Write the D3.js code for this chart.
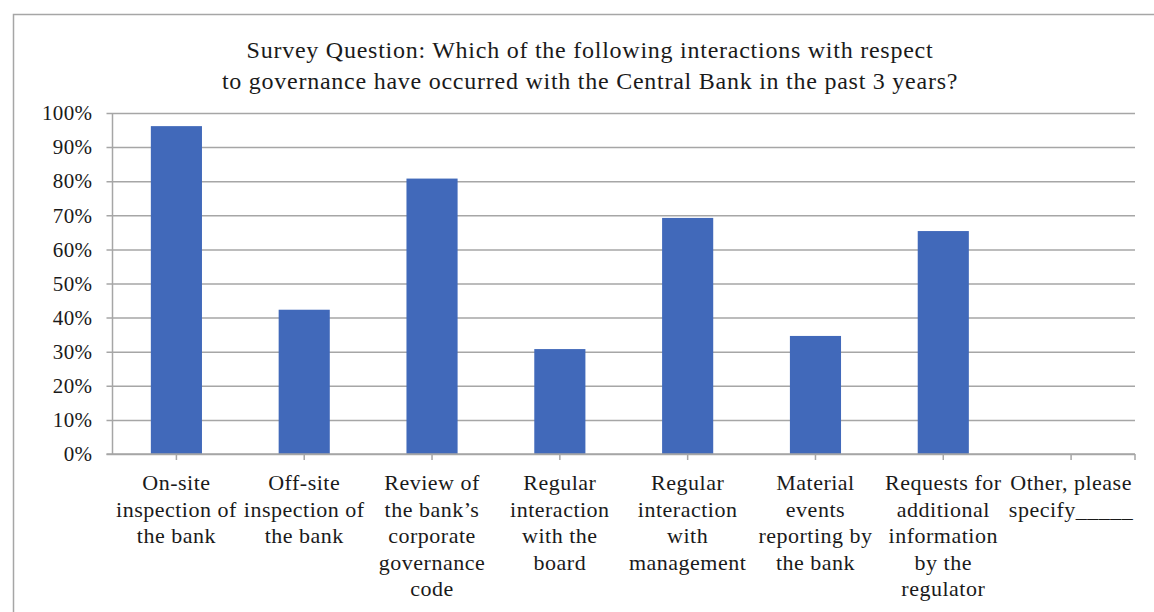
<!DOCTYPE html>
<html>
<head>
<meta charset="utf-8">
<script src="https://cdn.jsdelivr.net/npm/d3@7"></script>
<style>
  html, body { margin: 0; padding: 0; background: #fff; }
  svg text { font-family: "Liberation Serif", "DejaVu Serif", serif; fill: #1a1a1a; }
</style>
</head>
<body>
<svg id="chart" width="1154" height="612"></svg>
<script>
// Survey responses: share of banks reporting each interaction
const categories = [
  ["On-site", "inspection of", "the bank"],
  ["Off-site", "inspection of", "the bank"],
  ["Review of", "the bank\u2019s", "corporate", "governance", "code"],
  ["Regular", "interaction", "with the", "board"],
  ["Regular", "interaction", "with", "management"],
  ["Material", "events", "reporting by", "the bank"],
  ["Requests for", "additional", "information", "by the", "regulator"],
  ["Other, please", "specify_____"]
];
const values = [0.9615, 0.4231, 0.8077, 0.3077, 0.6923, 0.3462, 0.6538, 0];
const yTicks = [0, 0.1, 0.2, 0.3, 0.4, 0.5, 0.6, 0.7, 0.8, 0.9, 1.0];
const titleLines = [
  "Survey Question: Which of the following interactions with respect",
  "to governance have occurred with the Central Bank in the past 3 years?"
];

const svg = d3.select("#chart");
const W = 1154, H = 612;
const m = { left: 112.5, right: 1135, top: 113, bottom: 454 };

// Outer chart frame
svg.append("rect")
  .attr("x", 13.5).attr("y", 14.5)
  .attr("width", W + 10).attr("height", H + 10)
  .attr("fill", "none").attr("stroke", "#a6a6a6").attr("stroke-width", 1.5);

// Title
svg.append("g").selectAll("text").data(titleLines).join("text")
  .attr("x", 590).attr("y", (d, i) => 58 + i * 31)
  .attr("text-anchor", "middle")
  .style("font-size", "24px")
  .style("letter-spacing", "0.75px")
  .text(d => d);

const x = d3.scaleBand().domain(d3.range(categories.length))
  .range([m.left, m.right]).paddingInner(0.6).paddingOuter(0.3);
const xOuter = d3.scaleBand().domain(d3.range(categories.length))
  .range([m.left, m.right]);
const y = d3.scaleLinear().domain([0, 1]).range([m.bottom, m.top]);

// Horizontal gridlines with short ticks to the left of the axis
const yAxis = d3.axisLeft(y).tickValues(yTicks)
  .tickFormat(d3.format(".0%"))
  .tickSize(-(m.right - m.left)).tickPadding(14);
const gy = svg.append("g").attr("transform", `translate(${m.left},0)`).call(yAxis);
gy.select(".domain").remove();
gy.selectAll(".tick line")
  .attr("x1", -6)
  .attr("stroke", "#a6a6a6").attr("stroke-width", 1.5);
gy.selectAll(".tick text")
  .attr("x", -20)
  .style("font-size", "21px")
  .style("letter-spacing", "0.4px")
  .style("font-family", "'Liberation Serif', serif")
  .attr("fill", "#1a1a1a");

// Vertical axis line
svg.append("line")
  .attr("x1", m.left).attr("x2", m.left)
  .attr("y1", m.top).attr("y2", m.bottom)
  .attr("stroke", "#a6a6a6").attr("stroke-width", 1.5);

// Bars
svg.append("g").selectAll("rect").data(values).join("rect")
  .attr("x", (d, i) => x(i))
  .attr("width", x.bandwidth())
  .attr("y", d => y(d))
  .attr("height", d => y(0) - y(d))
  .attr("fill", "#4169BA");

// Category axis: baseline and tick marks at category centres
svg.append("line")
  .attr("x1", m.left - 6).attr("x2", m.right)
  .attr("y1", m.bottom).attr("y2", m.bottom)
  .attr("stroke", "#a6a6a6").attr("stroke-width", 1.5);
const tickXs = d3.range(categories.length).map(i => xOuter(i) + xOuter.bandwidth() / 2).concat([m.right]);
svg.append("g").selectAll("line").data(tickXs).join("line")
  .attr("x1", d => d).attr("x2", d => d)
  .attr("y1", m.bottom).attr("y2", m.bottom + 6)
  .attr("stroke", "#a6a6a6").attr("stroke-width", 1.5);

// Multi-line category labels
const lab = svg.append("g").selectAll("text").data(categories).join("text")
  .attr("text-anchor", "middle")
  .style("font-size", "22px")
  .style("letter-spacing", "0.5px");
lab.selectAll("tspan").data((d, i) => d.map(t => ({ t, i }))).join("tspan")
  .attr("x", d => xOuter(d.i) + xOuter.bandwidth() / 2)
  .attr("y", (d, j) => 490 + j * 26.5)
  .text(d => d.t);
</script>
</body>
</html>
